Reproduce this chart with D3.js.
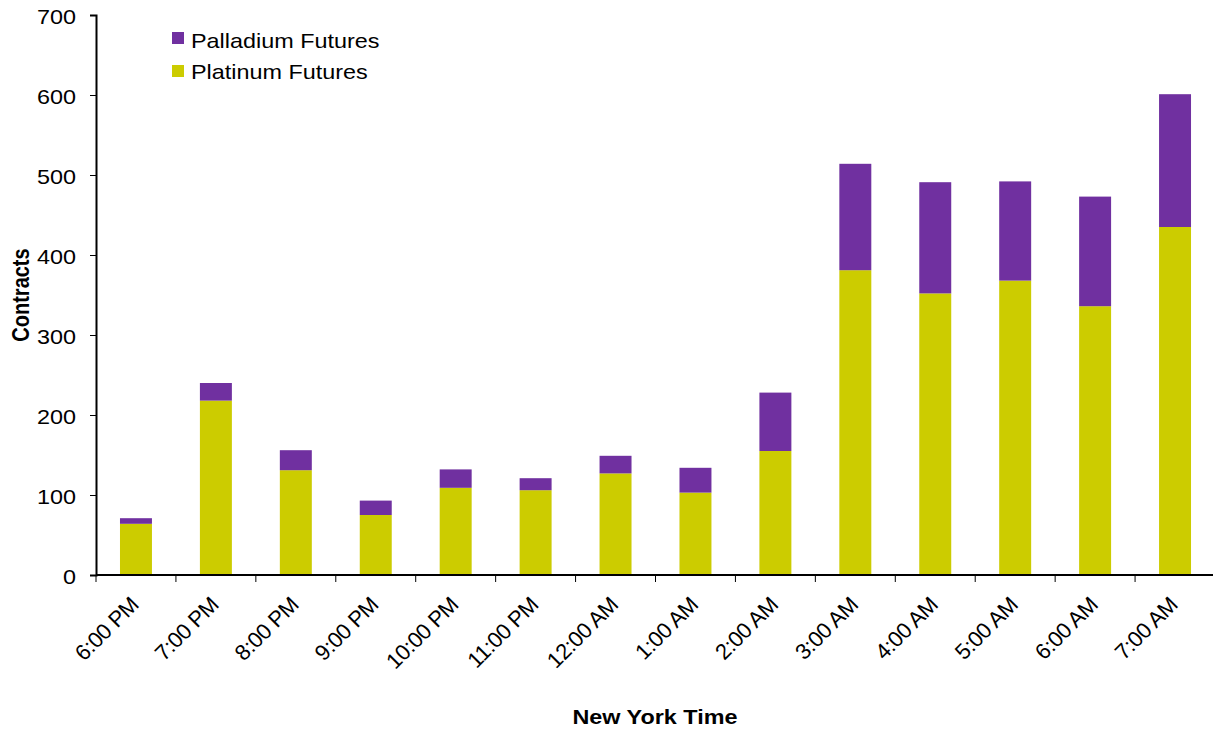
<!DOCTYPE html>
<html>
<head>
<meta charset="utf-8">
<script src="https://cdn.jsdelivr.net/npm/d3@7"></script>
<style>
  body { margin: 0; background: #fff; }
  svg { font-family: "Liberation Sans", Arial, sans-serif; }
</style>
</head>
<body>
<svg id="chart" width="1213" height="730"></svg>
<script>
// data
const hours = ["6:00 PM", "7:00 PM", "8:00 PM", "9:00 PM", "10:00 PM", "11:00 PM",
  "12:00 AM", "1:00 AM", "2:00 AM", "3:00 AM", "4:00 AM", "5:00 AM", "6:00 AM", "7:00 AM"];
const platinum = [64, 218, 131, 75, 109, 106, 127, 103, 155, 381, 352, 368, 336, 435];
const palladium = [7, 22, 25, 18, 23, 15, 22, 31, 73, 133, 139, 124, 137, 166];
const yTicks = [0, 100, 200, 300, 400, 500, 600, 700];

const seriesNames = ["Platinum Futures", "Palladium Futures"];
const colors = { "Platinum Futures": "#cccc00", "Palladium Futures": "#7030a0" };

const width = 1213, height = 730;
const margin = { top: 15, right: 0, bottom: 155, left: 96 };
const fontSize = 20;
const stretch = 1.17; // the reference text is a bit wider than plain Arial

const svg = d3.select("#chart");

const rows = hours.map((h, i) => ({
  hour: h,
  "Platinum Futures": platinum[i],
  "Palladium Futures": palladium[i]
}));
const stacked = d3.stack().keys(seriesNames)(rows);

const x = d3.scaleBand()
  .domain(hours)
  .range([margin.left, width + 2])
  .paddingInner(0.6)
  .paddingOuter(0.3);

// ticks sit on band boundaries
const xEdge = d3.scaleBand().domain(hours).range([margin.left, width + 2]);

const y = d3.scaleLinear()
  .domain([0, 700])
  .range([height - margin.bottom, margin.top]);

// bars
svg.append("g")
  .selectAll("g")
  .data(stacked)
  .join("g")
  .attr("fill", d => colors[d.key])
  .selectAll("rect")
  .data(d => d)
  .join("rect")
  .attr("x", d => x(d.data.hour))
  .attr("y", d => y(d[1]))
  .attr("width", x.bandwidth())
  .attr("height", d => y(d[0]) - y(d[1]));

// y axis
const yAxis = svg.append("g")
  .attr("transform", `translate(${margin.left},0)`)
  .call(d3.axisLeft(y).tickValues(yTicks).tickSize(6).tickFormat(""));
yAxis.select(".domain").attr("stroke", "#000").attr("stroke-width", 2);
yAxis.selectAll(".tick line").attr("stroke", "#000");

svg.append("g")
  .selectAll("text")
  .data(yTicks)
  .join("text")
  .attr("transform", d => `translate(76,${y(d)}) scale(${stretch},1)`)
  .attr("text-anchor", "end")
  .attr("dy", "0.45em")
  .attr("font-size", fontSize)
  .text(d => d);

// x axis
svg.append("line")
  .attr("x1", margin.left)
  .attr("x2", width)
  .attr("y1", y(0))
  .attr("y2", y(0))
  .attr("stroke", "#000")
  .attr("stroke-width", 2);

svg.append("g")
  .selectAll("line")
  .data(hours)
  .join("line")
  .attr("x1", d => xEdge(d))
  .attr("x2", d => xEdge(d))
  .attr("y1", y(0))
  .attr("y2", y(0) + 7)
  .attr("stroke", "#000");

svg.append("g")
  .selectAll("text")
  .data(hours)
  .join("text")
  .attr("transform", d =>
    `translate(${x(d) + x.bandwidth() / 2 + 4},${y(0) + 31}) rotate(-45)`)
  .attr("text-anchor", "end")
  .attr("font-size", 22)
  .attr("letter-spacing", -0.4)
  .text(d => d);

// axis titles
svg.append("text")
  .attr("transform", `translate(29,${(y(0) + y(700)) / 2}) scale(${stretch},1) rotate(-90)`)
  .attr("text-anchor", "middle")
  .attr("font-size", fontSize)
  .attr("font-weight", "bold")
  .text("Contracts");

svg.append("text")
  .attr("transform", `translate(655,724) scale(${stretch},1)`)
  .attr("text-anchor", "middle")
  .attr("font-size", fontSize)
  .attr("font-weight", "bold")
  .text("New York Time");

// legend
const legendItems = ["Palladium Futures", "Platinum Futures"];
const legend = svg.append("g")
  .selectAll("g")
  .data(legendItems)
  .join("g");
legend.append("rect")
  .attr("x", 172)
  .attr("y", (d, i) => 32 + i * 33)
  .attr("width", 12)
  .attr("height", 12)
  .attr("fill", d => colors[d]);
legend.append("text")
  .attr("transform", (d, i) => `translate(191,${48 + i * 30.5}) scale(${stretch},1)`)
  .attr("font-size", fontSize)
  .text(d => d);
</script>
</body>
</html>
